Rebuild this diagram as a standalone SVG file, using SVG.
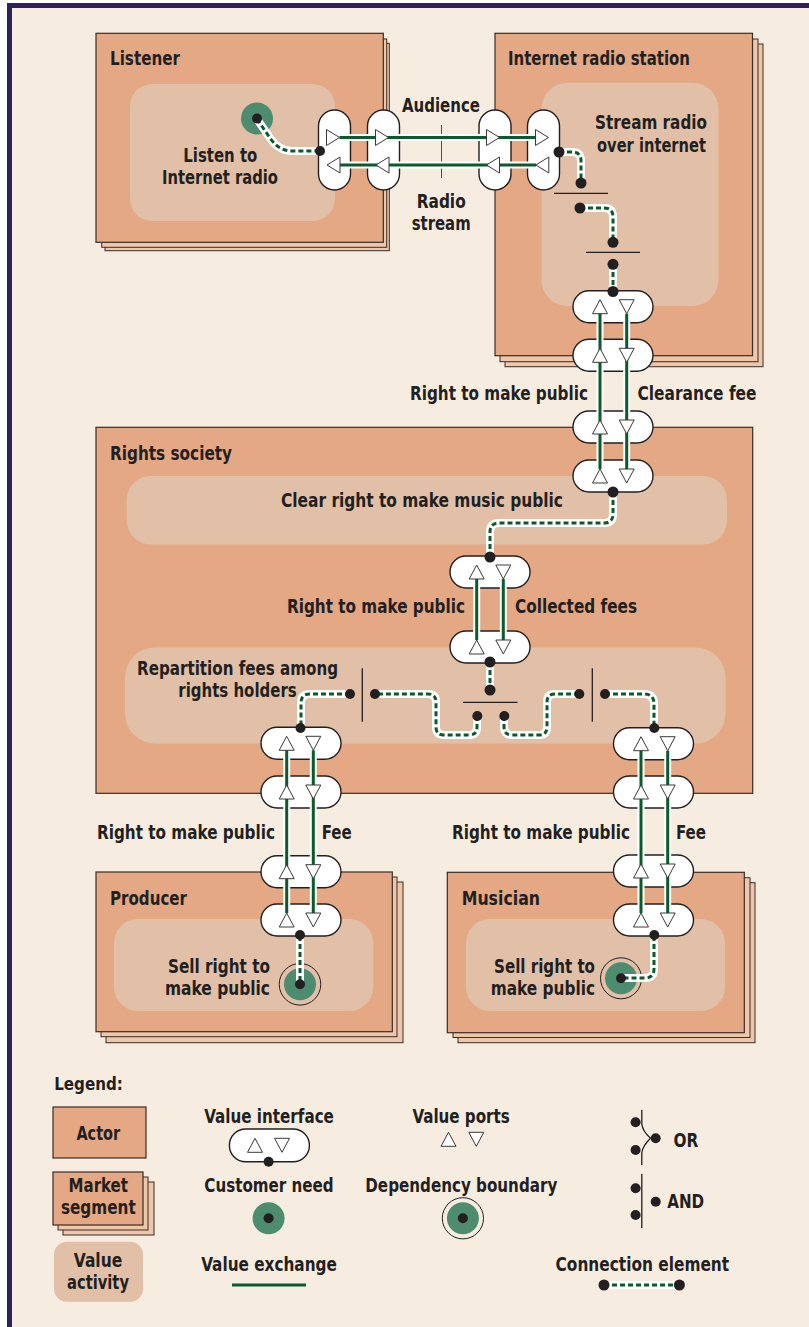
<svg xmlns="http://www.w3.org/2000/svg" xmlns:xlink="http://www.w3.org/1999/xlink" width="809" height="1327" viewBox="0 0 809 1327">
  <style>
    .sheet { fill: #EEC6AA; stroke: #3A2C26; stroke-width: 1; }
    .actor { fill: #E4A884; stroke: #3A2C26; stroke-width: 1.2; }
    .act { fill: #E2BFA7; }
    .vi { fill: #FFFFFF; stroke: #231F20; stroke-width: 1.4; }
    .port { fill: #FFFFFF; stroke: #3A3A3A; stroke-width: 1; }
    .halo { fill: none; stroke: #FFFFFF; stroke-width: 7; }
    .vx { fill: none; stroke: #0B5A2D; stroke-width: 3; }
    .ch { fill: none; stroke: #FFFFFF; stroke-width: 8; stroke-linejoin: round; }
    .cd { fill: none; stroke: #0B5A2D; stroke-width: 3; stroke-dasharray: 5 3; }
    .dot { fill: #231F20; }
    .bar { stroke: #231F20; stroke-width: 1.3; fill: none; }
    .tick { stroke: #5A4A44; stroke-width: 1; }
    .need { fill: #4E8C70; }
    .ring { fill: none; stroke: #231F20; stroke-width: 1; }
    .t { font-family: "Liberation Sans Narrow", "DejaVu Sans Condensed", "Liberation Sans", sans-serif; font-weight: bold; font-size: 20px; fill: #231F20; }
    .lg { font-size: 17px; }
    .sm { font-size: 19px; }
  </style>
  <defs>
    <path id="tu" d="M0,-7 L7.5,7 L-7.5,7 Z"/>
    <path id="td" d="M-7.5,-7 L7.5,-7 L0,7 Z"/>
    <path id="tr" d="M-6.5,-8 L6.5,0 L-6.5,8 Z"/>
    <path id="tl" d="M6.5,-8 L-6.5,0 L6.5,8 Z"/>
  </defs>

  <!-- page -->
  <rect x="0" y="0" width="809" height="1327" fill="#FFFFFF"/>
  <rect x="7" y="3" width="802" height="1324" fill="#F7ECE0"/>
  <rect x="7" y="3" width="802" height="5" fill="#2E2258"/>
  <rect x="7" y="3" width="5" height="1324" fill="#2E2258"/>

  <!-- Listener (market segment) -->
  <g id="listener">
    <rect class="sheet" x="105" y="43.3" width="284.3" height="207.4"/>
    <rect class="sheet" x="101.7" y="39" width="285" height="208.3"/>
    <rect class="actor" x="96" y="33.3" width="287.3" height="209"/>
    <rect class="act" x="130" y="84" width="205" height="137" rx="22"/>
    <text class="t" x="110" y="65" textLength="70" lengthAdjust="spacingAndGlyphs">Listener</text>
    <text class="t" x="183.3" y="162" textLength="74" lengthAdjust="spacingAndGlyphs">Listen to</text>
    <text class="t" x="162" y="184" textLength="116" lengthAdjust="spacingAndGlyphs">Internet radio</text>
  </g>

  <!-- Internet radio station (market segment) -->
  <g id="radio-station">
    <rect class="sheet" x="505" y="44" width="258" height="322.7"/>
    <rect class="sheet" x="500" y="39" width="258" height="322.7"/>
    <rect class="actor" x="495" y="33.3" width="257.5" height="322.4"/>
    <rect class="act" x="541.5" y="82.7" width="177" height="223.3" rx="26"/>
    <text class="t" x="508" y="65" textLength="182" lengthAdjust="spacingAndGlyphs">Internet radio station</text>
    <text class="t" x="595" y="128.5" textLength="112" lengthAdjust="spacingAndGlyphs">Stream radio</text>
    <text class="t" x="597" y="151.5" textLength="109" lengthAdjust="spacingAndGlyphs">over internet</text>
  </g>

  <!-- Rights society (actor) -->
  <g id="rights-society">
    <rect class="actor" x="96" y="427.3" width="656.7" height="366"/>
    <rect class="act" x="126.7" y="476" width="600.3" height="68.5" rx="24"/>
    <rect class="act" x="125" y="647.5" width="600.5" height="96" rx="30"/>
    <text class="t" x="110" y="460" textLength="122" lengthAdjust="spacingAndGlyphs">Rights society</text>
    <text class="t" x="281" y="507" textLength="282" lengthAdjust="spacingAndGlyphs">Clear right to make music public</text>
    <text class="t" x="137" y="675" textLength="201" lengthAdjust="spacingAndGlyphs">Repartition fees among</text>
    <text class="t" x="178.3" y="697" textLength="118.4" lengthAdjust="spacingAndGlyphs">rights holders</text>
  </g>

  <!-- Producer (market segment) -->
  <g id="producer">
    <rect class="sheet" x="106" y="882" width="297" height="160.7"/>
    <rect class="sheet" x="101" y="877" width="296" height="159.7"/>
    <rect class="actor" x="96" y="872" width="296.3" height="159.7"/>
    <rect class="act" x="114" y="919" width="259.3" height="92" rx="24"/>
    <text class="t" x="110" y="905" textLength="77" lengthAdjust="spacingAndGlyphs">Producer</text>
    <text class="t" x="168" y="973" textLength="102" lengthAdjust="spacingAndGlyphs">Sell right to</text>
    <text class="t" x="165" y="995" textLength="105" lengthAdjust="spacingAndGlyphs">make public</text>
  </g>

  <!-- Musician (market segment) -->
  <g id="musician">
    <rect class="sheet" x="458" y="882.7" width="297" height="160"/>
    <rect class="sheet" x="453" y="877.7" width="297" height="159.8"/>
    <rect class="actor" x="447.3" y="872.3" width="297" height="160.4"/>
    <rect class="act" x="466" y="919" width="259" height="92" rx="24"/>
    <text class="t" x="461.7" y="905" textLength="78.3" lengthAdjust="spacingAndGlyphs">Musician</text>
    <text class="t" x="494" y="973" textLength="101" lengthAdjust="spacingAndGlyphs">Sell right to</text>
    <text class="t" x="490.7" y="995" textLength="104.3" lengthAdjust="spacingAndGlyphs">make public</text>
  </g>

  <!-- customer need and dependency boundaries -->
  <g id="need-listen">
    <circle class="need" cx="257" cy="118.5" r="16"/>
  </g>
  <g id="boundary-producer">
    <circle class="ring" cx="300" cy="984.3" r="20.8"/>
    <circle class="need" cx="300" cy="984.3" r="16"/>
  </g>
  <g id="boundary-musician">
    <circle class="ring" cx="621" cy="978.3" r="20.5"/>
    <circle class="need" cx="621" cy="978.3" r="16"/>
  </g>

  <!-- value interfaces -->
  <g id="interfaces">
    <g id="vi-listener-1"><rect class="vi" x="318.5" y="110" width="32" height="80" rx="16"/></g>
    <g id="vi-listener-2"><rect class="vi" x="367.5" y="110" width="32" height="80" rx="16"/></g>
    <g id="vi-station-1"><rect class="vi" x="479" y="110" width="32" height="80" rx="16"/></g>
    <g id="vi-station-2"><rect class="vi" x="527.5" y="110" width="32" height="80" rx="16"/></g>

    <g id="vi-station-3"><rect class="vi" x="573" y="290.7" width="80" height="32" rx="16"/></g>
    <g id="vi-station-4"><rect class="vi" x="573" y="339.3" width="80" height="32" rx="16"/></g>
    <g id="vi-society-1"><rect class="vi" x="573" y="411" width="80" height="32" rx="16"/></g>
    <g id="vi-society-2"><rect class="vi" x="573" y="460" width="80" height="32" rx="16"/></g>

    <g id="vi-society-3"><rect class="vi" x="450" y="556" width="80" height="32" rx="16"/></g>
    <g id="vi-society-4"><rect class="vi" x="450" y="631" width="80" height="32" rx="16"/></g>

    <g id="vi-society-5"><rect class="vi" x="261" y="727.3" width="80" height="32" rx="16"/></g>
    <g id="vi-society-6"><rect class="vi" x="261" y="776" width="80" height="32" rx="16"/></g>
    <g id="vi-producer-1"><rect class="vi" x="261" y="855.7" width="80" height="32" rx="16"/></g>
    <g id="vi-producer-2"><rect class="vi" x="261" y="904" width="80" height="32" rx="16"/></g>

    <g id="vi-society-7"><rect class="vi" x="613.5" y="727.7" width="80" height="32" rx="16"/></g>
    <g id="vi-society-8"><rect class="vi" x="613.5" y="776" width="80" height="32" rx="16"/></g>
    <g id="vi-musician-1"><rect class="vi" x="613.5" y="855" width="80" height="32" rx="16"/></g>
    <g id="vi-musician-2"><rect class="vi" x="613.5" y="904" width="80" height="32" rx="16"/></g>
  </g>

  <!-- connectors: value exchanges, connection elements, AND/OR bars -->
  <g id="connectors">
    <line class="tick" x1="441.5" y1="125" x2="441.5" y2="178"/>

    <!-- value exchanges -->
    <path class="halo" d="M339.5,137.5 H535.5 M340,165 H536"/>
    <path class="vx" d="M339.5,137.5 H535.5 M340,165 H536"/>
    <path class="halo" d="M600,469 V313.7 M626.7,313.7 V469"/>
    <path class="vx" d="M600,469 V313.7 M626.7,313.7 V469"/>
    <path class="halo" d="M476.7,640 V579 M503.3,579 V640"/>
    <path class="vx" d="M476.7,640 V579 M503.3,579 V640"/>
    <path class="halo" d="M286.7,913 V750.3 M313.3,750.3 V913"/>
    <path class="vx" d="M286.7,913 V750.3 M313.3,750.3 V913"/>
    <path class="halo" d="M641,913 V750.7 M667.7,750.7 V913"/>
    <path class="vx" d="M641,913 V750.7 M667.7,750.7 V913"/>

    <!-- connection elements -->
    <g id="ce-paths">
      <path class="ch" d="M257,119 L270,138 Q279,151 292,151 L320,151"/>
      <path class="ch" d="M559,152 L572,152 Q581,152 581,161 L581,183"/>
      <path class="ch" d="M580,208 L604,208 Q613,208 613,217 L613,242"/>
      <path class="ch" d="M613,264 L613,291"/>
      <path class="ch" d="M613,492 L613,514 Q613,523 604,523 L499,523 Q490,523 490,532 L490,557"/>
      <path class="ch" d="M490,662 L490,690"/>
      <path class="ch" d="M477,716 L477,727 Q477,735 469,735 L444,735 Q436,735 436,727 L436,702 Q436,694 428,694 L375,694"/>
      <path class="ch" d="M350,694 L310,694 Q301,694 301,703 L301,728"/>
      <path class="ch" d="M504,716 L504,727 Q504,735 512,735 L539,735 Q547,735 547,727 L547,702 Q547,694 555,694 L579,694"/>
      <path class="ch" d="M605,694 L644,694 Q654,694 654,704 L654,728"/>
      <path class="ch" d="M300,936 L300,984"/>
      <path class="ch" d="M654,936 L654,969 Q654,978 645,978 L621,978"/>

      <path class="cd" d="M257,119 L270,138 Q279,151 292,151 L320,151"/>
      <path class="cd" d="M559,152 L572,152 Q581,152 581,161 L581,183"/>
      <path class="cd" d="M580,208 L604,208 Q613,208 613,217 L613,242"/>
      <path class="cd" d="M613,264 L613,291"/>
      <path class="cd" d="M613,492 L613,514 Q613,523 604,523 L499,523 Q490,523 490,532 L490,557"/>
      <path class="cd" d="M490,662 L490,690"/>
      <path class="cd" d="M477,716 L477,727 Q477,735 469,735 L444,735 Q436,735 436,727 L436,702 Q436,694 428,694 L375,694"/>
      <path class="cd" d="M350,694 L310,694 Q301,694 301,703 L301,728"/>
      <path class="cd" d="M504,716 L504,727 Q504,735 512,735 L539,735 Q547,735 547,727 L547,702 Q547,694 555,694 L579,694"/>
      <path class="cd" d="M605,694 L644,694 Q654,694 654,704 L654,728"/>
      <path class="cd" d="M300,936 L300,984"/>
      <path class="cd" d="M654,936 L654,969 Q654,978 645,978 L621,978"/>
    </g>

    <!-- AND bars -->
    <line class="bar" x1="554" y1="193.3" x2="608" y2="193.3"/>
    <line class="bar" x1="586" y1="252.3" x2="640" y2="252.3"/>
    <line class="bar" x1="463" y1="702.3" x2="517.5" y2="702.3"/>
    <line class="bar" x1="362.3" y1="668.3" x2="362.3" y2="721.7"/>
    <line class="bar" x1="592.3" y1="668.3" x2="592.3" y2="721.7"/>
  </g>

  <!-- value ports -->
  <g id="ports">
    <use class="port" href="#tr" x="333" y="137.5"/>
    <use class="port" href="#tr" x="382" y="137.5"/>
    <use class="port" href="#tr" x="493" y="137.5"/>
    <use class="port" href="#tr" x="542" y="137.5"/>
    <use class="port" href="#tl" x="333.5" y="165"/>
    <use class="port" href="#tl" x="382.5" y="165"/>
    <use class="port" href="#tl" x="493" y="165"/>
    <use class="port" href="#tl" x="542.3" y="165"/>

    <use class="port" href="#tu" x="600" y="306.7"/>
    <use class="port" href="#tu" x="600" y="355.3"/>
    <use class="port" href="#tu" x="600" y="427"/>
    <use class="port" href="#tu" x="600" y="476"/>
    <use class="port" href="#td" x="626.7" y="306.7"/>
    <use class="port" href="#td" x="626.7" y="355.3"/>
    <use class="port" href="#td" x="626.7" y="427"/>
    <use class="port" href="#td" x="626.7" y="476"/>

    <use class="port" href="#tu" x="476.7" y="572"/>
    <use class="port" href="#tu" x="476.7" y="647"/>
    <use class="port" href="#td" x="503.3" y="572"/>
    <use class="port" href="#td" x="503.3" y="647"/>

    <use class="port" href="#tu" x="286.7" y="743.3"/>
    <use class="port" href="#tu" x="286.7" y="792"/>
    <use class="port" href="#tu" x="286.7" y="871.7"/>
    <use class="port" href="#tu" x="286.7" y="920"/>
    <use class="port" href="#td" x="313.3" y="743.3"/>
    <use class="port" href="#td" x="313.3" y="792"/>
    <use class="port" href="#td" x="313.3" y="871.7"/>
    <use class="port" href="#td" x="313.3" y="920"/>

    <use class="port" href="#tu" x="641" y="743.7"/>
    <use class="port" href="#tu" x="641" y="792"/>
    <use class="port" href="#tu" x="641" y="871"/>
    <use class="port" href="#tu" x="641" y="920"/>
    <use class="port" href="#td" x="667.7" y="743.7"/>
    <use class="port" href="#td" x="667.7" y="792"/>
    <use class="port" href="#td" x="667.7" y="871"/>
    <use class="port" href="#td" x="667.7" y="920"/>
  </g>

  <!-- connection points -->
  <g id="points">
    <circle class="dot" cx="257" cy="118.5" r="5"/>
    <circle class="dot" cx="320" cy="151" r="5"/>
    <circle class="dot" cx="559" cy="152" r="5.5"/>
    <circle class="dot" cx="581" cy="183" r="5.5"/>
    <circle class="dot" cx="580" cy="208" r="5.5"/>
    <circle class="dot" cx="613" cy="242.3" r="5.5"/>
    <circle class="dot" cx="613" cy="264.3" r="5.5"/>
    <circle class="dot" cx="613" cy="291.5" r="5.5"/>
    <circle class="dot" cx="613" cy="492" r="5.5"/>
    <circle class="dot" cx="490" cy="557" r="5.5"/>
    <circle class="dot" cx="490" cy="662" r="5.5"/>
    <circle class="dot" cx="490" cy="690" r="5.5"/>
    <circle class="dot" cx="477.3" cy="716" r="5"/>
    <circle class="dot" cx="504.3" cy="716" r="5"/>
    <circle class="dot" cx="375" cy="694" r="5"/>
    <circle class="dot" cx="350" cy="694" r="5"/>
    <circle class="dot" cx="579.3" cy="694" r="5"/>
    <circle class="dot" cx="605" cy="694" r="5"/>
    <circle class="dot" cx="300.5" cy="728" r="5"/>
    <circle class="dot" cx="654.3" cy="728" r="5"/>
    <circle class="dot" cx="300" cy="935" r="5"/>
    <circle class="dot" cx="300" cy="984.3" r="5"/>
    <circle class="dot" cx="654.3" cy="935" r="5"/>
    <circle class="dot" cx="621" cy="978.3" r="5"/>
  </g>

  <!-- exchange labels -->
  <g id="labels">
    <text class="t" x="402" y="112" textLength="78" lengthAdjust="spacingAndGlyphs">Audience</text>
    <text class="t" x="416.7" y="208" textLength="49" lengthAdjust="spacingAndGlyphs">Radio</text>
    <text class="t" x="411.7" y="230" textLength="59" lengthAdjust="spacingAndGlyphs">stream</text>
    <text class="t" x="410" y="400" textLength="178" lengthAdjust="spacingAndGlyphs">Right to make public</text>
    <text class="t" x="637.5" y="400" textLength="119" lengthAdjust="spacingAndGlyphs">Clearance fee</text>
    <text class="t" x="287" y="613" textLength="178" lengthAdjust="spacingAndGlyphs">Right to make public</text>
    <text class="t" x="515" y="613" textLength="122" lengthAdjust="spacingAndGlyphs">Collected fees</text>
    <text class="t" x="97" y="839" textLength="178" lengthAdjust="spacingAndGlyphs">Right to make public</text>
    <text class="t" x="321.7" y="839" textLength="30" lengthAdjust="spacingAndGlyphs">Fee</text>
    <text class="t" x="452" y="839" textLength="178" lengthAdjust="spacingAndGlyphs">Right to make public</text>
    <text class="t" x="676" y="839" textLength="30" lengthAdjust="spacingAndGlyphs">Fee</text>
  </g>

  <!-- legend -->
  <g id="legend">
    <text class="t lg" x="54.2" y="1090" textLength="68.6" lengthAdjust="spacingAndGlyphs">Legend:</text>

    <rect class="actor" x="53" y="1107" width="93" height="51"/>
    <text class="t" x="76.4" y="1140" textLength="43.8" lengthAdjust="spacingAndGlyphs">Actor</text>

    <rect class="sheet" x="63" y="1182" width="91" height="53"/>
    <rect class="sheet" x="58" y="1177" width="90" height="53"/>
    <rect class="actor" x="53" y="1172" width="90" height="53"/>
    <text class="t sm" x="68.6" y="1191.5" textLength="59.4" lengthAdjust="spacingAndGlyphs">Market</text>
    <text class="t sm" x="60.9" y="1214" textLength="74.8" lengthAdjust="spacingAndGlyphs">segment</text>

    <rect class="act" x="54" y="1241.7" width="89" height="60" rx="13"/>
    <text class="t" x="73.8" y="1266.7" textLength="48.5" lengthAdjust="spacingAndGlyphs">Value</text>
    <text class="t" x="67" y="1289" textLength="62" lengthAdjust="spacingAndGlyphs">activity</text>

    <text class="t" x="204.3" y="1122.7" textLength="129.6" lengthAdjust="spacingAndGlyphs">Value interface</text>
    <rect class="vi" x="229.4" y="1129" width="80" height="32.7" rx="16.3"/>
    <use class="port" href="#tu" x="255" y="1145.3"/>
    <use class="port" href="#td" x="282" y="1145.3"/>
    <circle class="dot" cx="268.6" cy="1161.7" r="5"/>

    <text class="t" x="412.4" y="1122.7" textLength="97.4" lengthAdjust="spacingAndGlyphs">Value ports</text>
    <use class="port" href="#tu" x="448.5" y="1139.3"/>
    <use class="port" href="#td" x="476.3" y="1139.3"/>

    <path class="bar" d="M641.8,1110 L641.8,1124 Q642.5,1131 650.5,1138.3 Q642.5,1146 641.8,1153 L641.8,1165"/>
    <circle class="dot" cx="635.6" cy="1122.3" r="5"/>
    <circle class="dot" cx="635.6" cy="1150" r="5"/>
    <circle class="dot" cx="655.7" cy="1138.3" r="5"/>
    <text class="t" x="673.4" y="1146.7" textLength="24.8" lengthAdjust="spacingAndGlyphs">OR</text>

    <text class="t" x="204.3" y="1191.7" textLength="129.4" lengthAdjust="spacingAndGlyphs">Customer need</text>
    <circle class="need" cx="268.6" cy="1218.3" r="16"/>
    <circle class="dot" cx="268.6" cy="1218.3" r="5"/>

    <text class="t" x="365.3" y="1191.7" textLength="192" lengthAdjust="spacingAndGlyphs">Dependency boundary</text>
    <circle class="ring" cx="462.9" cy="1218.3" r="20.6"/>
    <circle class="need" cx="462.9" cy="1218.3" r="16"/>
    <circle class="dot" cx="462.9" cy="1218.3" r="5"/>

    <line class="bar" x1="641.8" y1="1174" x2="641.8" y2="1228"/>
    <circle class="dot" cx="635.6" cy="1188.3" r="5"/>
    <circle class="dot" cx="635.6" cy="1215" r="5"/>
    <circle class="dot" cx="655.7" cy="1201.7" r="5"/>
    <text class="t" x="667.2" y="1207.7" textLength="37" lengthAdjust="spacingAndGlyphs">AND</text>

    <text class="t" x="201.2" y="1270.7" textLength="135.7" lengthAdjust="spacingAndGlyphs">Value exchange</text>
    <line class="vx" x1="232" y1="1285" x2="306" y2="1285"/>

    <text class="t" x="555.6" y="1270.7" textLength="173.5" lengthAdjust="spacingAndGlyphs">Connection element</text>
    <line class="ch" x1="604" y1="1285" x2="679.4" y2="1285"/>
    <line class="cd" x1="604" y1="1285" x2="679.4" y2="1285"/>
    <circle class="dot" cx="604" cy="1285" r="5.5"/>
    <circle class="dot" cx="679.4" cy="1285" r="5.5"/>
  </g>
</svg>
